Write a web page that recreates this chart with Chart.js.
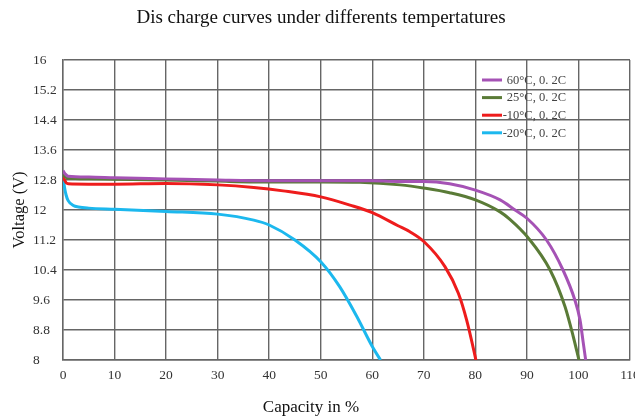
<!DOCTYPE html>
<html>
<head>
<meta charset="utf-8">
<script src="https://cdn.jsdelivr.net/npm/chart.js@4"></script>
<style>
html,body{margin:0;padding:0;background:#fff;}
canvas{display:block;}
</style>
</head>
<body>
<canvas id="c" width="635" height="416"></canvas>
<script>
const seriesLabels = ["60°C, 0. 2C", "25°C, 0. 2C", "-10°C, 0. 2C", "-20°C, 0. 2C"];
const seriesColors = ["#a552b5", "#5a7b37", "#ee1c1c", "#1cb8ee"];

const cap60 = [0, 0.5, 1, 5, 10, 20, 30, 40, 50, 60, 65, 70, 75, 80, 84.8, 87.7, 90, 93.8, 97, 99.3, 100.3, 100.9, 101.4];
const volt60 = [13.05, 12.95, 12.9, 12.88, 12.86, 12.83, 12.8, 12.78, 12.78, 12.78, 12.76, 12.76, 12.7, 12.53, 12.27, 12.0, 11.78, 11.2, 10.4, 9.6, 9.07, 8.49, 8.0];

const cap25 = [0, 0.5, 1, 5, 10, 20, 30, 37, 50, 57.6, 65.4, 70.2, 75, 80, 84.8, 86.7, 90.3, 94.5, 97.4, 99, 100.1];
const volt25 = [12.95, 12.88, 12.85, 12.83, 12.82, 12.8, 12.77, 12.75, 12.75, 12.74, 12.67, 12.58, 12.46, 12.27, 11.95, 11.75, 11.25, 10.4, 9.42, 8.62, 8.0];

const capM10 = [0, 0.3, 1, 5, 10, 20, 30, 37, 42.7, 50, 55.7, 60, 65, 67.3, 70, 74.1, 76.7, 78.3, 79.9, 80.1];
const voltM10 = [12.95, 12.8, 12.7, 12.69, 12.69, 12.71, 12.67, 12.6, 12.51, 12.35, 12.13, 11.93, 11.58, 11.42, 11.16, 10.49, 9.78, 9.07, 8.13, 8.0];

const capM20 = [0, 0.3, 0.6, 1, 2, 3, 5, 10, 20, 30, 37, 40, 45, 50, 53.7, 57, 60, 61.6];
const voltM20 = [12.93, 12.6, 12.4, 12.25, 12.12, 12.08, 12.05, 12.02, 11.96, 11.89, 11.73, 11.6, 11.2, 10.62, 9.95, 9.16, 8.36, 8.0];

const xTicks = [0, 10, 20, 30, 40, 50, 60, 70, 80, 90, 100, 110];
const yTicks = [8, 8.8, 9.6, 10.4, 11.2, 12, 12.8, 13.6, 14.4, 15.2, 16];

const caps = [cap60, cap25, capM10, capM20];
const volts = [volt60, volt25, voltM10, voltM20];

const datasets = caps.map((cx, i) => ({
  label: seriesLabels[i],
  data: cx.map((x, j) => ({x: x, y: volts[i][j]})),
  borderColor: seriesColors[i],
  backgroundColor: seriesColors[i],
  borderWidth: 3,
  pointRadius: 0,
  showLine: true,
  cubicInterpolationMode: 'monotone',
  fill: false
}));

const serif = "'Liberation Serif', 'Times New Roman', serif";

const legendPlugin = {
  id: 'insideLegend',
  afterLayout(chart) {
    // centre the chart title and the x-axis title as in the reference
    if (chart.titleBlock) { chart.titleBlock.left = 12; }
    const sx = chart.scales.x;
    if (sx && !sx._shifted) {
      const orig = sx.drawTitle.bind(sx);
      sx.drawTitle = function () {
        const l = this.left;
        this.left = l - 71;
        orig();
        this.left = l;
      };
      sx._shifted = true;
    }
  },
  afterDatasetsDraw(chart) {
    const ctx = chart.ctx;
    ctx.save();
    ctx.font = "12.5px " + serif;
    ctx.textBaseline = 'middle';
    chart.data.datasets.forEach((ds, i) => {
      const y = 80 + i * 17.6;
      ctx.strokeStyle = ds.borderColor;
      ctx.lineWidth = 3;
      ctx.beginPath();
      ctx.moveTo(482, y);
      ctx.lineTo(502, y);
      ctx.stroke();
      ctx.fillStyle = '#444';
      ctx.textAlign = 'right';
      ctx.fillText(ds.label, 566, y + 0.5);
    });
    ctx.restore();
  }
};

new Chart(document.getElementById('c'), {
  type: 'scatter',
  data: { datasets },
  plugins: [legendPlugin],
  options: {
    responsive: false,
    animation: false,
    devicePixelRatio: 1,
    layout: { padding: { top: 0, right: 5, bottom: 0, left: 33 } },
    plugins: {
      legend: { display: false },
      tooltip: { enabled: false },
      title: {
        display: true,
        text: 'Dis charge curves under differents tempertatures',
        color: '#111',
        font: { family: serif, size: 19, weight: 'normal' },
        padding: { top: 6.2, bottom: 31 }
      }
    },
    scales: {
      x: {
        type: 'linear',
        min: 0, max: 110,
        afterBuildTicks: s => { s.ticks = xTicks.map(v => ({value: v})); },
        afterFit: s => { s.height = 56; s.paddingLeft = 0; s.paddingRight = 0; },
        grid: { color: '#666', lineWidth: 1.4, drawTicks: false },
        border: { color: '#666', width: 1.4 },
        ticks: { color: '#333', padding: 7, maxRotation: 0, autoSkip: false,
                 font: { family: serif, size: 13.5 } },
        title: { display: true, text: 'Capacity in %', color: '#111',
                 font: { family: serif, size: 17 }, padding: { top: 0, bottom: -2 } }
      },
      y: {
        type: 'linear',
        min: 8, max: 16,
        afterBuildTicks: s => { s.ticks = yTicks.map(v => ({value: v})); },
        afterFit: s => { s.width = 30; },
        grid: { color: '#666', lineWidth: 1.4, drawTicks: false },
        border: { color: '#666', width: 1.4 },
        ticks: { color: '#333', padding: 4, crossAlign: 'far', autoSkip: false,
                 font: { family: serif, size: 13.5 },
                 callback: v => String(v) },
        title: { display: true, text: 'Voltage (V)', color: '#111',
                 font: { family: serif, size: 16.5 }, padding: { top: -22.9, bottom: 0 } }
      }
    }
  }
});
</script>
</body>
</html>
